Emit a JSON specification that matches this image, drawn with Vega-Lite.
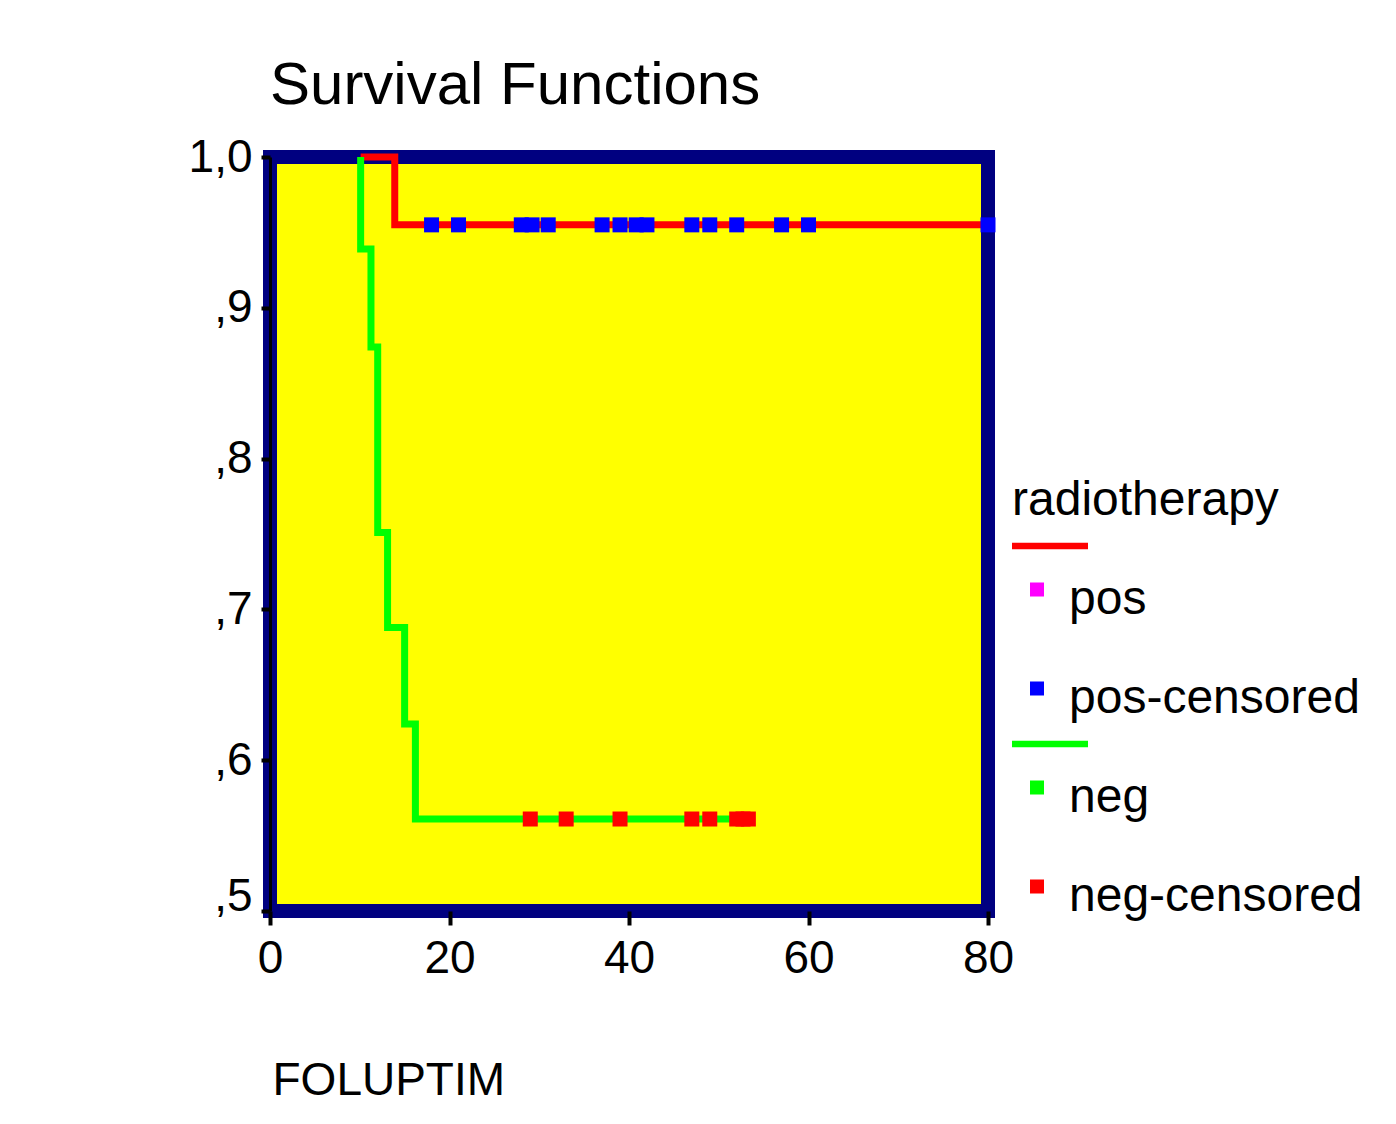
{
  "$schema": "https://vega.github.io/schema/vega-lite/v6.json",
  "width": 718,
  "height": 754,
  "autosize": {"type": "none"},
  "padding": {"left": 270, "top": 157, "right": 408, "bottom": 213},
  "background": "white",
  "view": {"fill": "#ffff00", "fillOpacity": 1, "stroke": "#000080", "strokeWidth": 14},
  "config": {
    "font": "Liberation Sans",
    "view": {"fill": "#ffff00", "fillOpacity": 1, "stroke": "#000080", "strokeWidth": 14}
  },
  "title": {
    "text": "Survival Functions",
    "anchor": "start",
    "frame": "group",
    "fontSize": 60,
    "fontWeight": "normal",
    "color": "black",
    "baseline": "alphabetic",
    "offset": -30
  },
  "datasets": {
    "curves": [
      {"group": "pos", "t": 10.1, "s": 1.0, "k": 1},
      {"group": "pos", "t": 13.9, "s": 0.955, "k": 2},
      {"group": "pos", "t": 80, "s": 0.955, "k": 3},
      {"group": "neg", "t": 10.1, "s": 1.0, "k": 1},
      {"group": "neg", "t": 10.1, "s": 0.939, "k": 2},
      {"group": "neg", "t": 11.25, "s": 0.874, "k": 3},
      {"group": "neg", "t": 12.0, "s": 0.751, "k": 4},
      {"group": "neg", "t": 13.1, "s": 0.688, "k": 5},
      {"group": "neg", "t": 15.0, "s": 0.624, "k": 6},
      {"group": "neg", "t": 16.2, "s": 0.561, "k": 7},
      {"group": "neg", "t": 53.4, "s": 0.561, "k": 8}
    ],
    "censored": [
      {"group": "pos", "t": 18, "s": 0.955},
      {"group": "pos", "t": 21, "s": 0.955},
      {"group": "pos", "t": 28, "s": 0.955},
      {"group": "pos", "t": 29.2, "s": 0.955},
      {"group": "pos", "t": 31, "s": 0.955},
      {"group": "pos", "t": 37, "s": 0.955},
      {"group": "pos", "t": 39, "s": 0.955},
      {"group": "pos", "t": 40.8, "s": 0.955},
      {"group": "pos", "t": 42, "s": 0.955},
      {"group": "pos", "t": 47, "s": 0.955},
      {"group": "pos", "t": 49, "s": 0.955},
      {"group": "pos", "t": 52, "s": 0.955},
      {"group": "pos", "t": 57, "s": 0.955},
      {"group": "pos", "t": 60, "s": 0.955},
      {"group": "pos", "t": 80, "s": 0.955},
      {"group": "neg", "t": 29, "s": 0.561},
      {"group": "neg", "t": 33, "s": 0.561},
      {"group": "neg", "t": 39, "s": 0.561},
      {"group": "neg", "t": 47, "s": 0.561},
      {"group": "neg", "t": 49, "s": 0.561},
      {"group": "neg", "t": 52, "s": 0.561},
      {"group": "neg", "t": 52.7, "s": 0.561},
      {"group": "neg", "t": 53.3, "s": 0.561}
    ],
    "legend": [
      {"key": "L1"}, {"key": "pos"}, {"key": "B1"}, {"key": "pos-censored"},
      {"key": "L2"}, {"key": "neg"}, {"key": "B2"}, {"key": "neg-censored"}
    ]
  },
  "layer": [
    {
      "data": {"name": "curves"},
      "transform": [{"filter": "datum.group == 'pos'"}],
      "mark": {"type": "line", "interpolate": "step-after", "color": "#ff0000", "strokeWidth": 7},
      "encoding": {
        "x": {
          "field": "t", "type": "quantitative",
          "scale": {"domain": [0, 80], "nice": false, "zero": false},
          "axis": {
            "values": [0, 20, 40, 60, 80],
            "labelFontSize": 46, "labelColor": "black", "labelPadding": 11, "labelFlush": false, "labelAngle": 0,
            "tickSize": 14, "tickWidth": 4, "tickColor": "black",
            "domain": false, "grid": false,
            "title": "FOLUPTIM", "titleFontSize": 46, "titleFontWeight": "normal", "titleColor": "black",
            "titleAnchor": "start", "titleAlign": "left", "titleBaseline": "alphabetic", "titleX": 2, "titleY": 183
          }
        },
        "y": {
          "field": "s", "type": "quantitative",
          "scale": {"domain": [0.5, 1.0], "nice": false, "zero": false},
          "axis": {
            "values": [0.5, 0.6, 0.7, 0.8, 0.9, 1.0],
            "labelExpr": "datum.value >= 0.999 ? '1,0' : ',' + round(datum.value * 10)",
            "labelFontSize": 46, "labelColor": "black", "labelPadding": 9,
            "labelOffset": {"condition": {"test": "datum.value <= 0.5", "value": -15}, "value": 0},
            "tickSize": 9, "tickWidth": 4, "tickColor": "black",
            "domainColor": "black", "domainWidth": 3, "grid": false, "title": null
          }
        },
        "order": {"field": "k", "type": "quantitative"}
      }
    },
    {
      "data": {"name": "curves"},
      "transform": [{"filter": "datum.group == 'neg'"}],
      "mark": {"type": "line", "interpolate": "step-after", "color": "#00ff00", "strokeWidth": 7},
      "encoding": {
        "x": {"field": "t", "type": "quantitative"},
        "y": {"field": "s", "type": "quantitative"},
        "order": {"field": "k", "type": "quantitative"}
      }
    },
    {
      "data": {"name": "censored"},
      "transform": [{"filter": "datum.group == 'pos'"}],
      "mark": {"type": "point", "shape": "square", "filled": true, "size": 225, "color": "#0000ff", "opacity": 1},
      "encoding": {
        "x": {"field": "t", "type": "quantitative"},
        "y": {"field": "s", "type": "quantitative"}
      }
    },
    {
      "data": {"name": "censored"},
      "transform": [{"filter": "datum.group == 'neg'"}],
      "mark": {"type": "point", "shape": "square", "filled": true, "size": 225, "color": "#ff0000", "opacity": 1},
      "encoding": {
        "x": {"field": "t", "type": "quantitative"},
        "y": {"field": "s", "type": "quantitative"}
      }
    },
    {
      "data": {"name": "legend"},
      "mark": {"type": "point", "filled": true, "opacity": 0},
      "encoding": {
        "color": {
          "field": "key", "type": "nominal",
          "scale": {
            "domain": ["L1", "pos", "B1", "pos-censored", "L2", "neg", "B2", "neg-censored"],
            "range": ["#ff0000", "#ff00ff", "rgba(0,0,0,0)", "#0000ff", "#00ff00", "#00ff00", "rgba(0,0,0,0)", "#ff0000"]
          },
          "legend": {
            "title": "radiotherapy", "orient": "none", "legendX": 742, "legendY": 320,
            "titleFontSize": 48, "titleFontWeight": "normal", "titleColor": "black", "titleLimit": 500, "titlePadding": 1,
            "labelFontSize": 48, "labelColor": "black", "labelLimit": 500, "labelOffset": 9,
            "symbolSize": 1600, "symbolStrokeWidth": 0, "symbolOpacity": 1,
            "clipHeight": 48, "rowPadding": 1.5, "padding": 0,
            "labelExpr": "indexof(['pos','pos-censored','neg','neg-censored'], datum.label) >= 0 ? datum.label : ''"
          }
        },
        "shape": {
          "field": "key", "type": "nominal",
          "scale": {
            "domain": ["L1", "pos", "B1", "pos-censored", "L2", "neg", "B2", "neg-censored"],
            "range": [
              "M-1.2,-0.36L2.6,-0.36L2.6,-0.04L-1.2,-0.04Z",
              "M-0.3,-0.85L0.4,-0.85L0.4,-0.15L-0.3,-0.15Z",
              "M-0.3,-0.85L0.4,-0.85L0.4,-0.15L-0.3,-0.15Z",
              "M-0.3,-0.85L0.4,-0.85L0.4,-0.15L-0.3,-0.15Z",
              "M-1.2,-0.36L2.6,-0.36L2.6,-0.04L-1.2,-0.04Z",
              "M-0.3,-0.85L0.4,-0.85L0.4,-0.15L-0.3,-0.15Z",
              "M-0.3,-0.85L0.4,-0.85L0.4,-0.15L-0.3,-0.15Z",
              "M-0.3,-0.85L0.4,-0.85L0.4,-0.15L-0.3,-0.15Z"
            ]
          },
          "legend": {
            "title": "radiotherapy", "orient": "none", "legendX": 742, "legendY": 320,
            "titleFontSize": 48, "titleFontWeight": "normal", "titleColor": "black", "titleLimit": 500, "titlePadding": 1,
            "labelFontSize": 48, "labelColor": "black", "labelLimit": 500, "labelOffset": 9,
            "symbolSize": 1600, "symbolStrokeWidth": 0, "symbolOpacity": 1,
            "clipHeight": 48, "rowPadding": 1.5, "padding": 0,
            "labelExpr": "indexof(['pos','pos-censored','neg','neg-censored'], datum.label) >= 0 ? datum.label : ''"
          }
        }
      }
    }
  ]
}
